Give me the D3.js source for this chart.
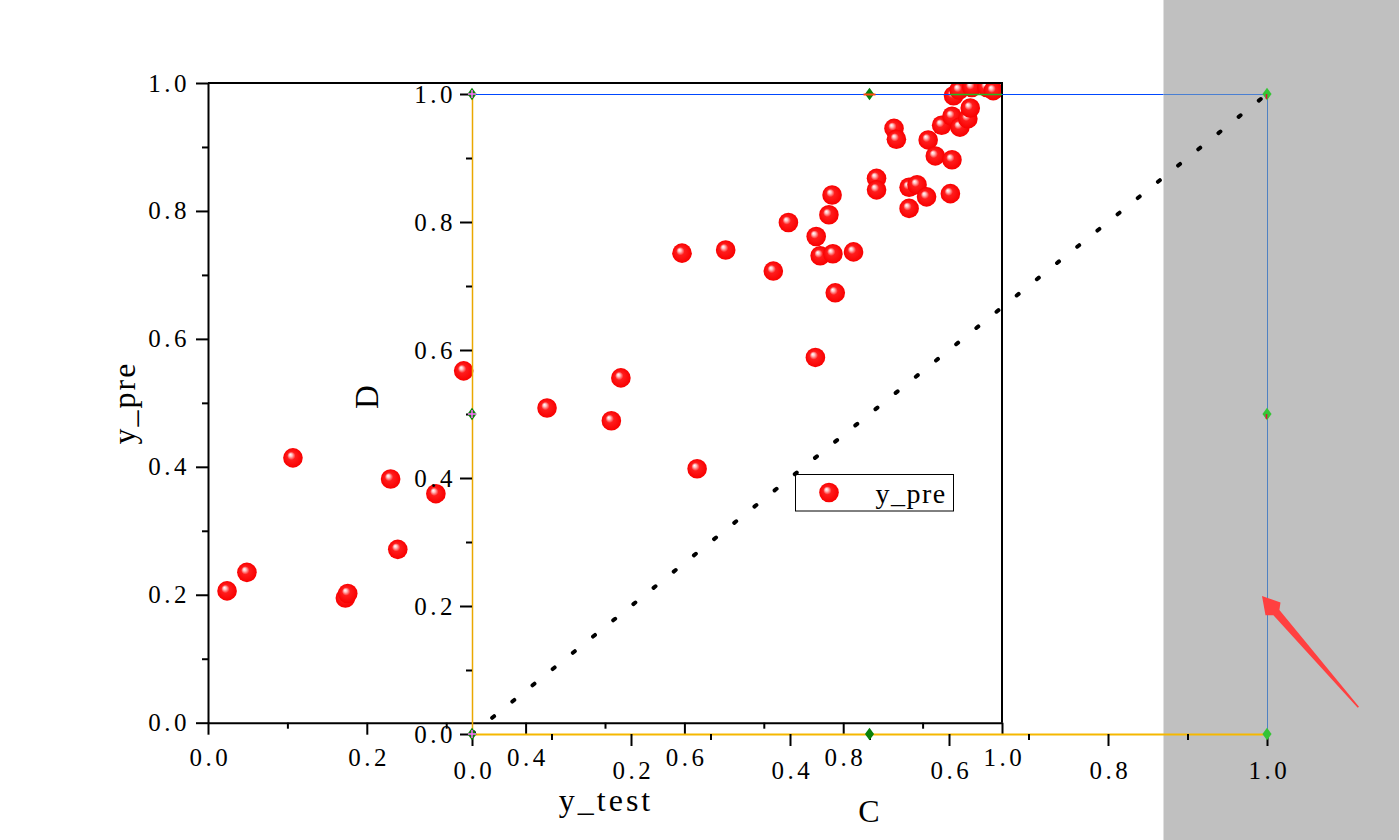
<!DOCTYPE html>
<html>
<head>
<meta charset="utf-8">
<script src="https://cdn.jsdelivr.net/npm/d3@7"></script>
<style>
  body { margin: 0; background: #fff; }
  svg { display: block; }
  text { font-family: "Liberation Serif", "DejaVu Serif", serif; fill: #000; }
</style>
</head>
<body>
<div id="chart"></div>
<script>
// measured values (outer layer: y_pre vs y_test)
const yTest = [0.024, 0.049, 0.107, 0.173, 0.176, 0.230, 0.239, 0.287, 0.322, 0.427,
  0.508, 0.520, 0.597, 0.616, 0.652, 0.712, 0.731, 0.765, 0.766, 0.771,
  0.782, 0.786, 0.787, 0.790, 0.813, 0.842, 0.842, 0.864, 0.867, 0.883,
  0.883, 0.893, 0.905, 0.907, 0.916, 0.935, 0.937, 0.924, 0.937, 0.947,
  0.957, 0.960, 0.939, 0.946, 0.962, 0.981, 0.989];
const yPre = [0.206, 0.235, 0.414, 0.195, 0.202, 0.381, 0.271, 0.358, 0.550, 0.492,
  0.472, 0.539, 0.734, 0.397, 0.739, 0.706, 0.782, 0.571, 0.760, 0.730,
  0.794, 0.825, 0.733, 0.672, 0.736, 0.851, 0.833, 0.929, 0.912, 0.804,
  0.837, 0.841, 0.822, 0.911, 0.886, 0.827, 0.880, 0.934, 0.948, 0.931,
  0.944, 0.961, 0.980, 0.989, 0.993, 0.993, 0.988];

const majorTicks = [0, 0.2, 0.4, 0.6, 0.8, 1.0];
const minorTicks = [0.1, 0.3, 0.5, 0.7, 0.9];
const refLine = [0, 1];           // y = x line in layer C/D
const handles = [[0, 1], [0.5, 1], [1, 1], [0, 0.5], [1, 0.5], [0, 0], [0.5, 0], [1, 0]];

const W = 1399, H = 840;
const grayX = 1163.5;
const LS = 3.5; // letter spacing for tick labels

const svg = d3.select("#chart").append("svg")
  .attr("width", W)
  .attr("height", H);

const defs = svg.append("defs");
const grad = defs.append("radialGradient")
  .attr("id", "ball")
  .attr("cx", "50%").attr("cy", "50%").attr("r", "50%")
  .attr("fx", "36%").attr("fy", "33%");
grad.append("stop").attr("offset", "0").attr("stop-color", "#ffffff");
grad.append("stop").attr("offset", "0.16").attr("stop-color", "#ffc4c4");
grad.append("stop").attr("offset", "0.42").attr("stop-color", "#ff1c1c");
grad.append("stop").attr("offset", "1").attr("stop-color", "#f80000");

// outer layer scales
const xO = d3.scaleLinear().domain([0, 1]).range([208, 1002]);
const yO = d3.scaleLinear().domain([0, 1]).range([722.7, 83]);
// inner layer scales
const xI = d3.scaleLinear().domain([0, 1]).range([472, 1267]);
const yI = d3.scaleLinear().domain([0, 1]).range([734, 94]);

const fmt = d3.format(".1f");

// gray panel on the right
svg.append("rect")
  .attr("x", grayX).attr("y", 0)
  .attr("width", W - grayX).attr("height", H)
  .attr("fill", "#c0c0c0");

defs.append("clipPath").attr("id", "outerClip")
  .append("rect")
  .attr("x", xO(0)).attr("y", yO(1))
  .attr("width", xO(1) - xO(0)).attr("height", yO(0) - yO(1));

// scatter
svg.append("g")
  .attr("clip-path", "url(#outerClip)")
  .selectAll("circle")
  .data(yTest.map((d, i) => [d, yPre[i]]))
  .join("circle")
  .attr("cx", d => xO(d[0]))
  .attr("cy", d => yO(d[1]))
  .attr("r", 9.8)
  .attr("fill", "url(#ball)");

function styleAxis(g, domainColor, domainWidth) {
  g.selectAll(".tick line").attr("stroke", "#000").attr("stroke-width", 2);
  g.select(".domain").attr("stroke", domainColor).attr("stroke-width", domainWidth);
  g.selectAll("text")
    .attr("font-size", 25)
    .style("letter-spacing", LS + "px")
    .style("font-family", "'Liberation Serif', serif")
    .attr("fill", "#000");
}

// ---- outer layer axes ----
const gOY = svg.append("g").attr("transform", `translate(${xO(0)},0)`);
gOY.call(d3.axisLeft(yO).tickValues(majorTicks).tickSize(12).tickSizeOuter(0)
  .tickPadding(6).tickFormat(fmt));
styleAxis(gOY, "#000", 2);
const gOYm = svg.append("g").attr("transform", `translate(${xO(0)},0)`);
gOYm.call(d3.axisLeft(yO).tickValues(minorTicks).tickSize(6).tickFormat(""));
styleAxis(gOYm, "none", 0);

const gOX = svg.append("g").attr("transform", `translate(0,${yO(0)})`);
gOX.call(d3.axisBottom(xO).tickValues(majorTicks).tickSize(12).tickSizeOuter(0)
  .tickPadding(14).tickFormat(fmt));
styleAxis(gOX, "#000", 2);
gOX.selectAll("text").attr("dx", LS / 2);
const gOXm = svg.append("g").attr("transform", `translate(0,${yO(0)})`);
gOXm.call(d3.axisBottom(xO).tickValues(minorTicks).tickSize(6).tickFormat(""));
styleAxis(gOXm, "none", 0);

// top and right frame of outer layer
svg.append("path")
  .attr("d", `M${xO(0)},${yO(1)}H${xO(1)}V${yO(0)}`)
  .attr("fill", "none").attr("stroke", "#000").attr("stroke-width", 2);

// outer axis titles
svg.append("text")
  .attr("transform", `translate(135,403) rotate(-90)`)
  .attr("text-anchor", "middle")
  .attr("font-size", 32)
  .style("letter-spacing", "2px")
  .text("y_pre");
svg.append("text")
  .attr("x", 606).attr("y", 811)
  .attr("text-anchor", "middle")
  .attr("font-size", 32)
  .style("letter-spacing", "3px")
  .text("y_test");

// legend
const leg = svg.append("g").attr("transform", "translate(795.5,474.5)");
leg.append("rect")
  .attr("width", 158).attr("height", 36.5)
  .attr("fill", "#fff").attr("stroke", "#000").attr("stroke-width", 1);
leg.append("circle")
  .attr("cx", 33.5).attr("cy", 18).attr("r", 9.8)
  .attr("fill", "url(#ball)");
leg.append("text")
  .attr("x", 80).attr("y", 28.5)
  .attr("font-size", 28)
  .style("letter-spacing", "1.5px")
  .text("y_pre");

// ---- inner layer (C / D) ----
// y = x dotted reference line
svg.append("path")
  .datum(refLine)
  .attr("d", d3.line().x(d => xI(d)).y(d => yI(d)))
  .attr("fill", "none")
  .attr("stroke", "#000")
  .attr("stroke-width", 4)
  .attr("stroke-linecap", "round")
  .attr("stroke-dasharray", "2.5,23.4");

const gIY = svg.append("g").attr("transform", `translate(${xI(0)},0)`);
gIY.call(d3.axisLeft(yI).tickValues(majorTicks).tickSize(12).tickSizeOuter(0)
  .tickPadding(4).tickFormat(fmt));
styleAxis(gIY, "#eaa800", 1.5);
const gIYm = svg.append("g").attr("transform", `translate(${xI(0)},0)`);
gIYm.call(d3.axisLeft(yI).tickValues(minorTicks).tickSize(6).tickFormat(""));
styleAxis(gIYm, "none", 0);

const gIX = svg.append("g").attr("transform", `translate(0,${yI(0)})`);
gIX.call(d3.axisBottom(xI).tickValues(majorTicks).tickSize(12).tickSizeOuter(0)
  .tickPadding(15).tickFormat(fmt));
styleAxis(gIX, "#f5b800", 2);
gIX.selectAll("text").attr("dx", LS / 2);
const gIXm = svg.append("g").attr("transform", `translate(0,${yI(0)})`);
gIXm.call(d3.axisBottom(xI).tickValues(minorTicks).tickSize(6).tickFormat(""));
styleAxis(gIXm, "none", 0);

// top (blue) and right frame lines of inner layer
svg.append("line")
  .attr("x1", xI(0)).attr("x2", grayX)
  .attr("y1", yI(1) + 0.5).attr("y2", yI(1) + 0.5)
  .attr("stroke", "#0048ff").attr("stroke-width", 1);
svg.append("line")
  .attr("x1", grayX).attr("x2", xI(1))
  .attr("y1", yI(1) + 0.5).attr("y2", yI(1) + 0.5)
  .attr("stroke", "#4a7fd2").attr("stroke-width", 1);
svg.append("line")
  .attr("x1", xO(0.935)).attr("x2", xO(1))
  .attr("y1", yI(1) + 0.5).attr("y2", yI(1) + 0.5)
  .attr("stroke", "#22bb22").attr("stroke-width", 1.5);
svg.append("line")
  .attr("x1", xI(1) + 0.5).attr("x2", xI(1) + 0.5)
  .attr("y1", yI(1)).attr("y2", yI(0))
  .attr("stroke", "#4f81c2").attr("stroke-width", 1);

// inner axis titles
svg.append("text")
  .attr("x", 869).attr("y", 822)
  .attr("text-anchor", "middle")
  .attr("font-size", 32)
  .text("C");
svg.append("text")
  .attr("transform", `translate(378,397) rotate(-90)`)
  .attr("text-anchor", "middle")
  .attr("font-size", 33)
  .text("D");

// layer selection handles
const hG = svg.append("g");
hG.selectAll("path.h")
  .data(handles)
  .join("path")
  .attr("class", "h")
  .attr("transform", d => `translate(${xI(d[0])},${yI(d[1])}) scale(1.2,0.95)`)
  .attr("d", d3.symbol(d3.symbolDiamond, 50))
  .attr("fill", d => xI(d[0]) > grayX ? "#35c435" : "#0a820a");
hG.selectAll("path.r")
  .data(handles.filter(d => d[0] === 0.5 && d[1] === 1))
  .join("path")
  .attr("class", "r")
  .attr("d", d => `M${xI(d[0]) - 6},${yI(d[1]) + 0.5}h12`)
  .attr("stroke", "#ff4a10").attr("stroke-width", 2);
hG.selectAll("path.p")
  .data(handles.filter(d => d[0] === 0))
  .join("path")
  .attr("class", "p")
  .attr("d", d => `M${xI(d[0]) - 4},${yI(d[1])}h8M${xI(d[0])},${yI(d[1]) - 4}v8`)
  .attr("stroke", "#ff70ff").attr("stroke-width", 1.5);
hG.selectAll("path.q")
  .data(handles.filter(d => d[0] === 1 && d[1] > 0))
  .join("path")
  .attr("class", "q")
  .attr("d", d => `M${xI(d[0]) - 0.5},${yI(d[1])}v5`)
  .attr("stroke", "#e0103a").attr("stroke-width", 1.5);

// red annotation arrow
svg.append("polygon")
  .attr("points", [
    [1262, 596], [1280.5, 602.5], [1279.4, 610], [1359, 706.8],
    [1357.7, 707.8], [1273.4, 615.2], [1265.5, 615.2]
  ].map(p => p.join(",")).join(" "))
  .attr("fill", "#ff4040");
</script>
</body>
</html>
